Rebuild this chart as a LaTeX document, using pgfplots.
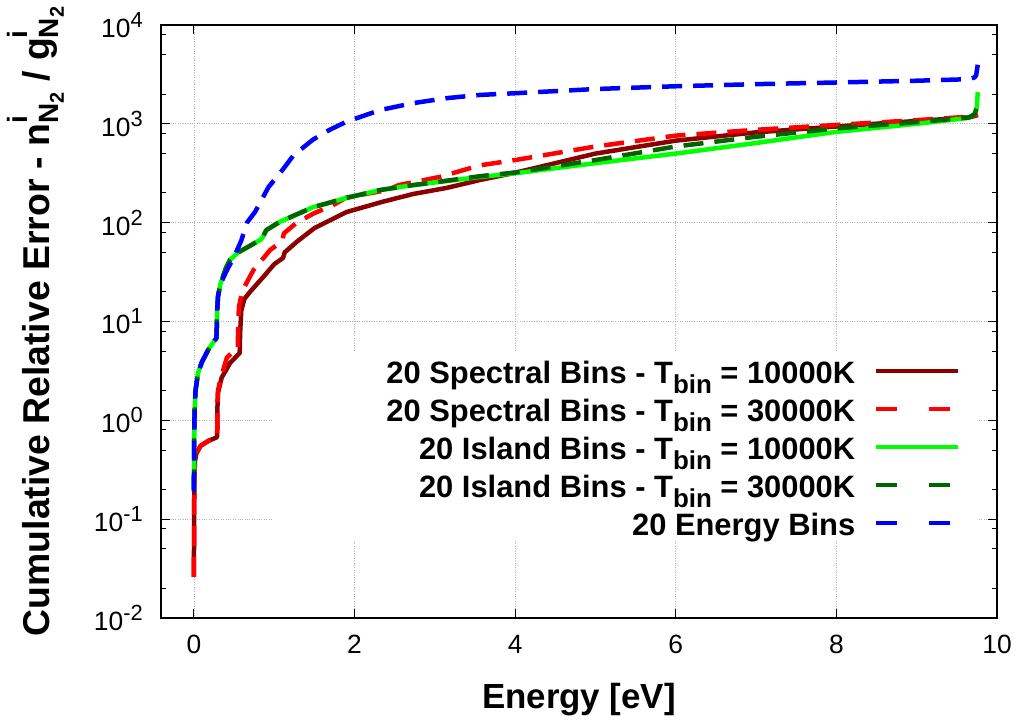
\documentclass[border=0pt]{standalone}
\usepackage{fontspec}
\setmainfont{Liberation Sans}
\usepackage{pgfplots}
\pgfplotsset{compat=1.18}
\definecolor{cbrown}{RGB}{139,0,0}
\definecolor{cred}{RGB}{255,0,0}
\definecolor{cgreen}{RGB}{0,255,0}
\definecolor{cdkgreen}{RGB}{0,100,0}
\definecolor{cblue}{RGB}{0,0,255}
\newcommand{\tl}[1]{10\raisebox{10bp}{\fontsize{22}{22}\selectfont #1}}
\newcommand{\sN}{\rlap{\raisebox{22bp}{\fontsize{28}{28}\selectfont i}}\raisebox{-9bp}{\fontsize{28}{28}\selectfont N\raisebox{-5bp}{\fontsize{20}{20}\selectfont 2}}}
\newcommand{\bin}{\raisebox{-10bp}{\fontsize{26}{26}\selectfont bin}}
\begin{document}
\begin{tikzpicture}
\useasboundingbox (-161bp,-103bp) rectangle (860bp,618bp);
\begin{axis}[
 scale only axis, width=836bp, height=593bp,
 at={(0,0)}, anchor=south west,
 xmin=-0.41, xmax=10, ymode=log, ymin=0.01, ymax=10000,
 xtick={0,2,4,6,8,10}, xticklabels={0,2,4,6,8,10},
 ytick={0.01,0.1,1,10,100,1000,10000},
 yticklabels={\tl{-2},\tl{-1},\tl{0},\tl{1},\tl{2},\tl{3},\tl{4}},
 minor ytick={0.02,0.05,0.08,0.2,0.5,0.8,2,5,8,20,50,80,200,500,800,2000,5000,8000},
 tick align=inside,
 major tick length=9bp, minor tick length=5bp,
 every tick/.style={black, line width=1bp},
 xmajorgrids, ymajorgrids,
 major grid style={dotted, gray!60, line width=0.8bp},
 axis line style={line width=1.5bp},
 tick label style={font=\fontsize{26.5}{26.5}\selectfont},
 xticklabel style={inner sep=0pt, yshift=-17bp},
 yticklabel style={inner sep=0pt, xshift=-18bp},
 every axis x label/.style={at={(axis description cs:0.5,-0.1518)}, anchor=base, font=\bfseries\fontsize{35}{40}\selectfont},
 every axis y label/.style={at={(axis description cs:-0.1328,0.5)}, rotate=90, anchor=base, font=\bfseries\fontsize{37.5}{40}\selectfont},
 xlabel={Energy [eV]},
 ylabel={Cumulative Relative Error - n\sN\ / g\sN},
 legend style={at={(rel axis cs:0.9557,0.4486)}, anchor=north east, draw=none, fill=none,
   inner sep=0pt, row sep=0pt, column sep=18bp,
   font=\bfseries\fontsize{31}{37}\selectfont,
   nodes={inner sep=0pt, text height=31bp, text depth=7bp}},
 legend cell align=right, legend plot pos=right,
 legend image code/.code={\draw[#1] (0bp,0bp) -- (82bp,0bp);},
 every axis plot/.append style={line width=4.5bp, line join=round},
]
\fill[white] (rel axis cs:0.133,0.1315) rectangle (rel axis cs:0.979,0.4486);
% 20 Spectral Bins 10000K
\addplot[cbrown, solid, forget plot] coordinates {
(0,0.026) (0.002,0.1) (0.006,0.25) (0.012,0.38) (0.03,0.46) (0.08,0.55) (0.18,0.62) (0.28,0.67) (0.29,0.69) (0.292,1.3) (0.30,1.9) (0.345,2.7) (0.45,3.8) (0.57,4.8) (0.575,7.6) (0.59,13) (0.63,17) (0.70,20) (0.86,28) (1.0,38) (1.11,44) (1.13,50) (1.28,64) (1.5,88) (1.9,128) (2.34,162) (2.73,195) (3.15,225) (3.56,270) (4,320) (5,500) (6,676) (7,820) (8,940) (9,1070) (9.65,1160) (9.72,1200) (9.76,1230)
};
% 20 Spectral Bins 30000K
\addplot[cred, dash pattern=on 20bp off 11bp, forget plot] coordinates {
(0,0.026) (0.002,0.1) (0.006,0.25) (0.012,0.38) (0.03,0.46) (0.08,0.55) (0.18,0.62) (0.28,0.67) (0.29,0.69) (0.292,1.3) (0.30,2.0) (0.33,2.6) (0.41,4.3) (0.48,4.9) (0.545,5.2) (0.55,8) (0.56,14) (0.6,20) (0.66,25) (0.74,33) (0.95,53) (1.1,65) (1.12,78) (1.28,100) (1.5,125) (1.73,150) (1.9,180) (2.4,213) (2.55,240) (3.06,290) (3.56,380) (4,430) (5,590) (6,760) (7,870) (8,975) (9,1090) (9.65,1180) (9.72,1210) (9.76,1240)
};
% 20 Island Bins 10000K
\addplot[cgreen, solid, forget plot] coordinates {
(0,0.2) (0.003,0.6) (0.008,1.2) (0.02,2.0) (0.05,3.0) (0.1,3.9) (0.18,5.2) (0.25,6.3) (0.28,6.8) (0.285,9) (0.29,13) (0.3,18) (0.33,24) (0.4,35) (0.45,42) (0.55,50) (0.66,56) (0.84,68) (0.86,72) (0.9,84) (1.07,102) (1.48,143) (1.9,178) (2.32,214) (2.73,240) (3.0,255) (3.56,290) (4,316) (5,400) (6,500) (7,640) (8,830) (9,1000) (9.65,1150) (9.72,1250) (9.75,1500) (9.76,2090)
};
% 20 Island Bins 30000K
\addplot[cdkgreen, dash pattern=on 20bp off 11bp, forget plot] coordinates {
(0,0.2) (0.003,0.6) (0.008,1.2) (0.02,2.0) (0.05,3.0) (0.1,3.9) (0.18,5.2) (0.25,6.3) (0.28,6.8) (0.285,9) (0.29,13) (0.3,18) (0.33,24) (0.4,35) (0.45,42) (0.55,50) (0.66,56) (0.84,68) (0.86,72) (0.9,84) (1.07,102) (1.48,143) (1.9,178) (2.32,214) (2.73,240) (3.0,256) (3.56,295) (4,322) (5,430) (6,590) (7,740) (8,900) (9,1040) (9.65,1160) (9.72,1250) (9.75,1450) (9.76,1800)
};
% 20 Energy Bins
\addplot[cblue, dash pattern=on 20bp off 11bp, forget plot] coordinates {
(0,0.19) (0.003,0.6) (0.008,1.2) (0.02,2.0) (0.05,3.0) (0.1,3.9) (0.18,5.2) (0.25,6.3) (0.28,6.8) (0.285,9) (0.29,13) (0.3,18) (0.33,24) (0.41,33) (0.5,45) (0.59,66) (0.66,100) (0.76,128) (0.93,230) (1.07,315) (1.24,480) (1.48,690) (1.69,870) (1.9,1050) (2.32,1380) (2.73,1620) (3.15,1820) (3.56,1960) (4,2040) (5,2250) (6,2400) (7,2520) (8,2620) (9,2730) (9.65,2830) (9.72,2950) (9.74,3100) (9.76,3960)
};
\addlegendimage{cbrown, solid, line width=4.5bp}
\addlegendentry{20 Spectral Bins - T\bin\ = 10000K}
\addlegendimage{cred, dash pattern=on 21bp off 32bp, line width=4.5bp}
\addlegendentry{20 Spectral Bins - T\bin\ = 30000K}
\addlegendimage{cgreen, solid, line width=4.5bp}
\addlegendentry{20 Island Bins - T\bin\ = 10000K}
\addlegendimage{cdkgreen, dash pattern=on 21bp off 32bp, line width=4.5bp}
\addlegendentry{20 Island Bins - T\bin\ = 30000K}
\addlegendimage{cblue, dash pattern=on 21bp off 32bp, line width=4.5bp}
\addlegendentry{20 Energy Bins}
\end{axis}
\end{tikzpicture}
\end{document}
